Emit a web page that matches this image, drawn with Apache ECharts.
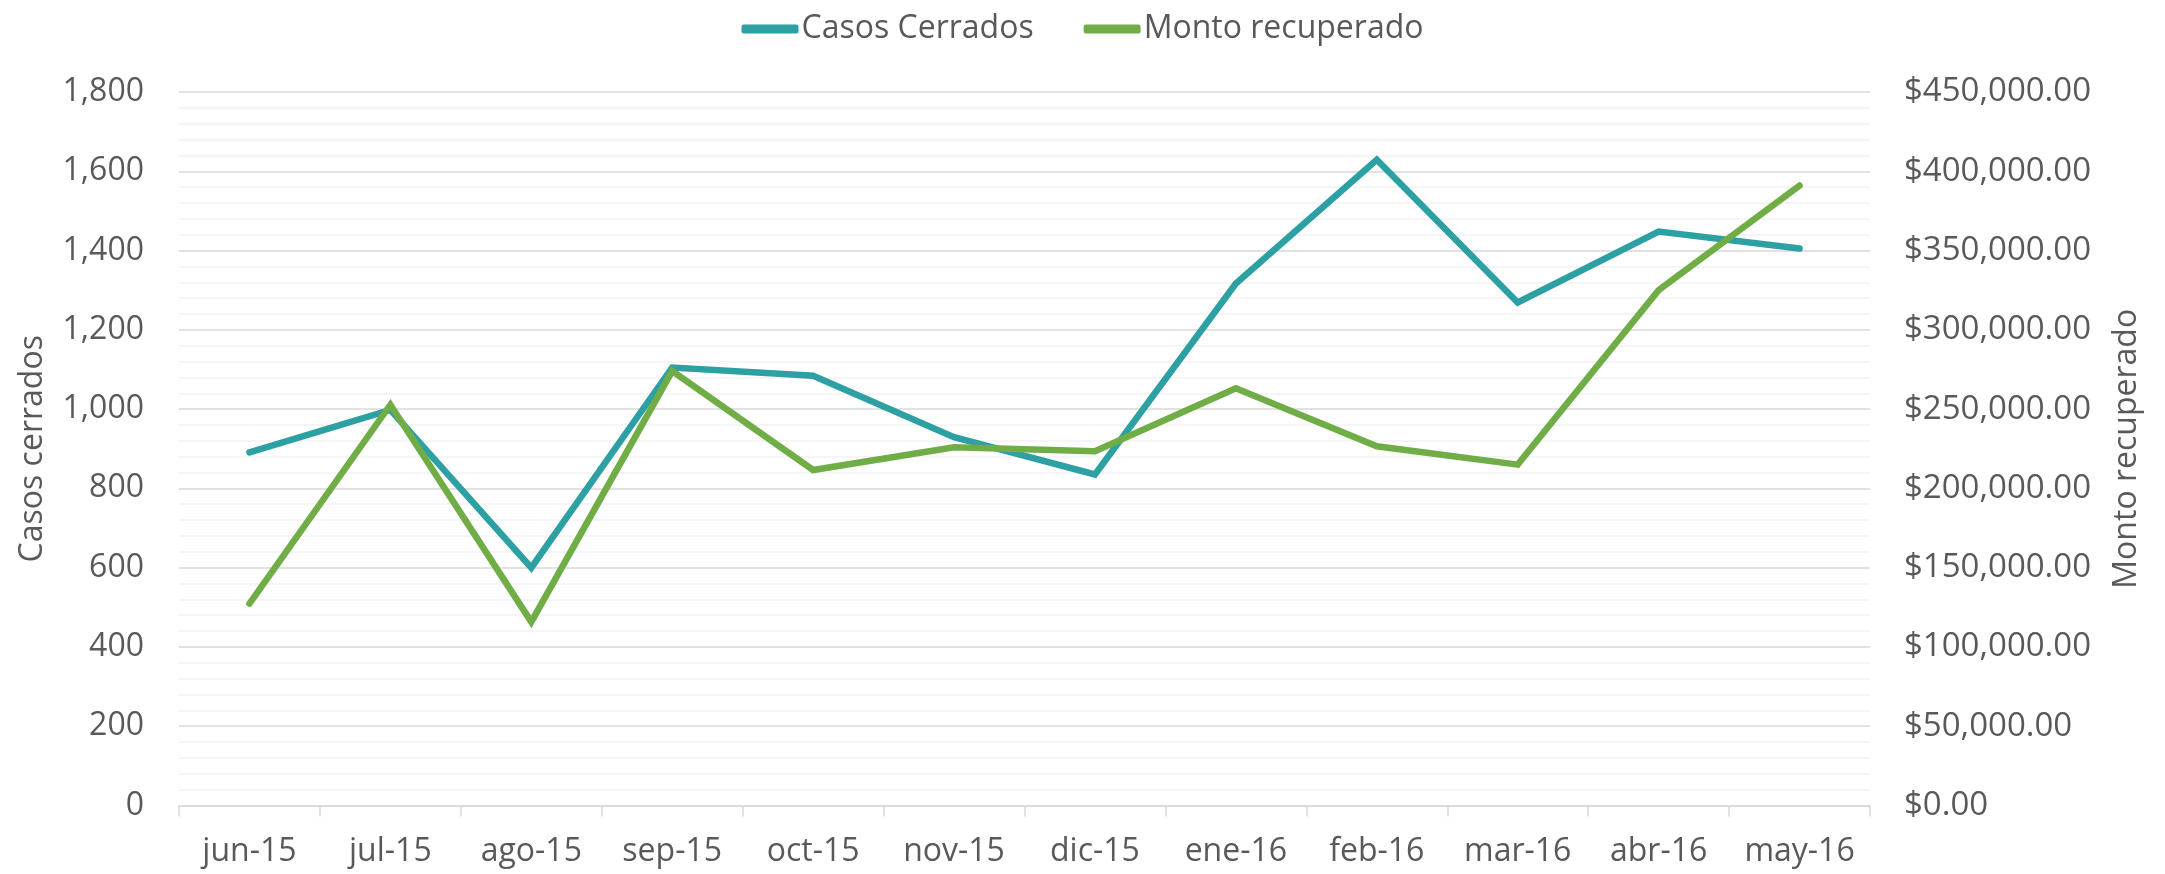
<!DOCTYPE html>
<html>
<head>
<meta charset="utf-8">
<title>Casos cerrados / Monto recuperado</title>
<script src="https://cdn.jsdelivr.net/npm/echarts@6/dist/echarts.min.js"></script>
<style>
  html, body { margin: 0; padding: 0; background: #fff; }
  #main { width: 2165px; height: 874px; }
</style>
</head>
<body>
<div id="main"></div>
<script>
// datos
var meses = ['jun-15', 'jul-15', 'ago-15', 'sep-15', 'oct-15', 'nov-15', 'dic-15', 'ene-16', 'feb-16', 'mar-16', 'abr-16', 'may-16'];
var casosCerrados = [891, 998, 600, 1105, 1084, 929, 835, 1317, 1629, 1269, 1448, 1405];
var montoRecuperado = [127300, 252800, 115800, 274000, 211600, 225900, 223400, 263200, 226600, 215000, 325000, 391000];

var colorCasos = '#2ca0a2';
var colorMonto = '#70ad47';
var gris = '#595959';
var fuente = '"Open Sans", "Noto Sans", sans-serif';

var myChart = echarts.init(document.getElementById('main'));

option = {
    backgroundColor: '#ffffff',
    textStyle: { fontFamily: fuente, color: gris },
    legend: {
        top: 8,
        left: 'center',
        itemGap: 50,
        itemWidth: 57,
        itemHeight: 9,
        icon: 'roundRect',
        textStyle: { fontSize: 32, color: gris, fontFamily: fuente, padding: [0, 0, 0, -2] },
        data: ['Casos Cerrados', 'Monto recuperado']
    },
    grid: {
        left: 179,
        right: 295,
        top: 92,
        bottom: 68.5,
        containLabel: false
    },
    xAxis: [
        {
            type: 'category',
            data: meses,
            boundaryGap: true,
            axisLine: { lineStyle: { color: '#d9d9d9', width: 1.5 } },
            axisTick: { show: true, length: 11, lineStyle: { color: '#d9d9d9', width: 1.5 } },
            axisLabel: { fontSize: 32, color: gris, fontFamily: fuente, margin: 30, interval: 0 }
        }
    ],
    yAxis: [
        {
            type: 'value',
            name: 'Casos cerrados',
            nameLocation: 'middle',
            nameGap: 130,
            nameTextStyle: { fontSize: 32, color: gris, fontFamily: fuente },
            min: 0,
            max: 1800,
            interval: 200,
            axisLine: { show: false },
            axisTick: { show: false },
            axisLabel: {
                fontSize: 32, color: gris, fontFamily: fuente, margin: 35,
                formatter: function (v) { return v.toLocaleString('en-US'); }
            },
            splitLine: { show: true, lineStyle: { color: '#d9d9d9', width: 1.5 } },
            minorTick: { show: false, splitNumber: 5 },
            minorSplitLine: { show: true, lineStyle: { color: '#f2f2f2', width: 1.5 } }
        },
        {
            type: 'value',
            name: 'Monto recuperado',
            nameLocation: 'middle',
            nameGap: 241,
            nameTextStyle: { fontSize: 32, color: gris, fontFamily: fuente },
            min: 0,
            max: 450000,
            interval: 50000,
            axisLine: { show: false },
            axisTick: { show: false },
            axisLabel: {
                fontSize: 33, color: gris, fontFamily: fuente, margin: 34,
                formatter: function (v) {
                    return '$' + v.toLocaleString('en-US', { minimumFractionDigits: 2, maximumFractionDigits: 2 });
                }
            },
            splitLine: { show: false }
        }
    ],
    series: [
        {
            name: 'Casos Cerrados',
            type: 'line',
            yAxisIndex: 0,
            data: casosCerrados,
            symbol: 'none',
            showSymbol: false,
            itemStyle: { color: colorCasos },
            lineStyle: { color: colorCasos, width: 6.5, cap: 'round', join: 'miter' },
            animation: false
        },
        {
            name: 'Monto recuperado',
            type: 'line',
            yAxisIndex: 1,
            data: montoRecuperado,
            symbol: 'none',
            showSymbol: false,
            itemStyle: { color: colorMonto },
            lineStyle: { color: colorMonto, width: 6.5, cap: 'round', join: 'miter' },
            animation: false
        }
    ]
};

myChart.setOption(option);
</script>
</body>
</html>
